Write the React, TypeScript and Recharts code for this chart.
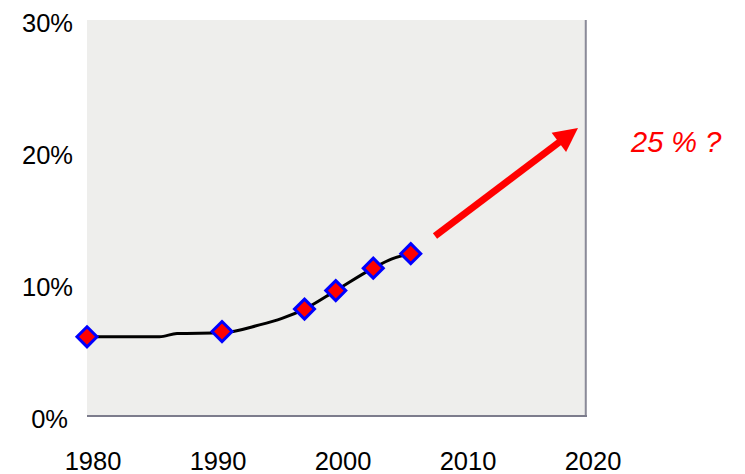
import React from 'react';
import {
  ComposedChart,
  Line,
  Scatter,
  XAxis,
  YAxis,
  CartesianGrid,
  ReferenceLine,
} from 'recharts';

// Observed points (markers)
const markerYears = [1980, 1990.8, 1997.4, 1999.9, 2002.9, 2005.9];
const markerValues = [6.0, 6.4, 8.1, 9.5, 11.2, 12.3];

// Trend line path
const lineYears = [1980, 1985.8, 1987.2, 1990.8, 1993.8, 1995.6, 1997.4, 1999.9, 2002.9, 2004.4, 2005.9];
const lineValues = [6.0, 6.0, 6.25, 6.3, 6.9, 7.4, 8.1, 9.5, 11.2, 11.9, 12.3];

// Projection arrow
const arrowStart = { x: 2007.84, y: 13.64 };
const arrowEnd = { x: 2019.28, y: 21.82 };
const projectionLabel = '25 % ?';

const xTicks = [1980, 1990, 2000, 2010, 2020];
const yTicks = [0, 10, 20, 30];

const markerData = markerYears.map((year, i) => ({ year, value: markerValues[i] }));
const lineData = lineYears.map((year, i) => ({ year, value: lineValues[i] }));

const FONT = '"Liberation Sans", Arial, sans-serif';

const Diamond = (props: any) => {
  const { cx, cy } = props;
  const r = 10;
  return (
    <polygon
      points={`${cx},${cy - r} ${cx + r},${cy} ${cx},${cy + r} ${cx - r},${cy}`}
      fill="#ff0000"
      stroke="#0000ff"
      strokeWidth={3}
    />
  );
};

const Arrow = (props: any) => {
  const { x1, y1, x2, y2 } = props;
  const dx = x2 - x1;
  const dy = y2 - y1;
  const len = Math.sqrt(dx * dx + dy * dy);
  const ux = dx / len;
  const uy = dy / len;
  const headLen = 24;
  const headHalf = 12;
  const bx = x2 - ux * headLen;
  const by = y2 - uy * headLen;
  const px = -uy;
  const py = ux;
  return (
    <g>
      <line x1={x1} y1={y1} x2={bx + ux * 2} y2={by + uy * 2} stroke="#ff0000" strokeWidth={7} />
      <polygon
        points={`${x2},${y2} ${bx + px * headHalf},${by + py * headHalf} ${bx - px * headHalf},${by - py * headHalf}`}
        fill="#ff0000"
      />
    </g>
  );
};

const XTick = (props: any) => {
  const { x, y, payload } = props;
  return (
    <text x={x + 6} y={y + 54} textAnchor="middle" fontFamily={FONT} fontSize={25.5} fill="#000">
      {payload.value}
    </text>
  );
};

const YTick = (props: any) => {
  const { x, y, payload } = props;
  const extra = payload.value === 0 ? -5 : 0;
  return (
    <text
      x={x + extra}
      y={y + 3}
      dy="0.35em"
      textAnchor="end"
      fontFamily={FONT}
      fontSize={25.5}
      fill="#000"
    >
      {`${payload.value}%`}
    </text>
  );
};

export default function App() {
  return (
    <div style={{ position: 'absolute', left: 0, top: 0, width: 745, height: 474, background: '#fff' }}>
      <ComposedChart
        width={745}
        height={474}
        margin={{ top: 20, right: 158, bottom: 0, left: 0 }}
      >
        <CartesianGrid horizontal={false} vertical={false} fill="#eeeeec" stroke="none" />
        <XAxis
          dataKey="year"
          type="number"
          domain={[1980, 2020]}
          ticks={xTicks}
          height={58}
          tickSize={0}
          tickMargin={0}
          tickLine={false}
          axisLine={{ stroke: '#7c7c8c', strokeWidth: 2 }}
          tick={<XTick />}
        />
        <YAxis
          dataKey="value"
          type="number"
          domain={[0, 30]}
          ticks={yTicks}
          width={87}
          tickSize={0}
          tickMargin={14}
          tickLine={false}
          axisLine={false}
          tick={<YTick />}
        />
        <ReferenceLine x={2019.9} stroke="#8a8a98" strokeWidth={2} />
        <Line
          data={lineData}
          dataKey="value"
          type="monotone"
          stroke="#000"
          strokeWidth={3}
          dot={false}
          isAnimationActive={false}
        />
        <Scatter data={markerData} dataKey="value" shape={<Diamond />} isAnimationActive={false} />
        <ReferenceLine segment={[arrowStart, arrowEnd]} shape={<Arrow />} ifOverflow="visible" />
      </ComposedChart>
      <svg
        width={745}
        height={474}
        style={{ position: 'absolute', left: 0, top: 0, pointerEvents: 'none' }}
      >
        <text x={631} y={152} fontFamily={FONT} fontSize={29} fontStyle="italic" fill="#ff0000">
          {projectionLabel}
        </text>
      </svg>
    </div>
  );
}
